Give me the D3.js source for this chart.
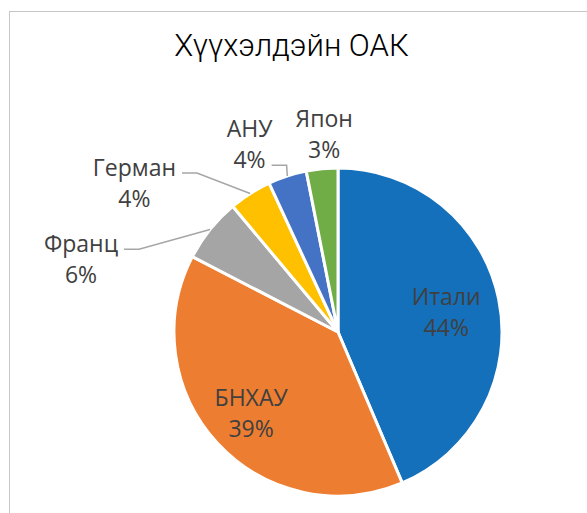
<!DOCTYPE html>
<html>
<head>
<meta charset="utf-8">
<script src="https://cdn.jsdelivr.net/npm/d3@7"></script>
<style>
  html, body { margin: 0; padding: 0; background: #fff; }
  svg { display: block; }
  .title { font-family: Roboto, "Open Sans", sans-serif; font-weight: 300; font-size: 31px; fill: #000; }
  .lbl { font-family: "Open Sans", "Noto Sans", sans-serif; font-size: 23px; fill: #404040; }
</style>
</head>
<body>
<svg id="chart" width="587" height="513"></svg>
<script>
// ── Data ──────────────────────────────────────────────────────
const countries = ['Итали', 'БНХАУ', 'Франц', 'Герман', 'АНУ', 'Япон'];
const shares    = [43.6, 39.0, 6.3, 4.2, 3.8, 3.1];
const colors    = ['#1470BA', '#ED7D31', '#A5A5A5', '#FFC000', '#4472C4', '#70AD47'];
const titleText = 'Хүүхэлдэйн ОАК';

// ── Layout ────────────────────────────────────────────────────
const W = 587, H = 513;
const cx = 338, cy = 332, R = 164;
// label placement, polar (deg clockwise from top, distance from centre)
const labelPos = {
  'Итали':  { a: 79.8,  d: 110 },
  'БНХАУ':  { a: 226.9, d: 119 },
  'Франц':  { a: 285.7, d: 267, out: true },
  'Герман': { a: 306.1, d: 252, out: true },
  'АНУ':    { a: 334.7, d: 207, out: true },
  'Япон':   { a: 356.0, d: 198, out: true }
};
const LINE = 31;

const svg = d3.select('#chart').attr('viewBox', `0 0 ${W} ${H}`);

// chart area border (clipped by the window on right and bottom)
svg.append('rect')
  .attr('x', 9.5).attr('y', 11.5).attr('width', 700).attr('height', 700)
  .attr('fill', 'none').attr('stroke', '#C6C6C6').attr('stroke-width', 1);

svg.append('text').attr('class', 'title')
  .attr('x', 291.5).attr('y', 56).attr('text-anchor', 'middle')
  .text(titleText);

const rows = countries.map((c, i) => ({ name: c, value: shares[i], color: colors[i] }));
const total = d3.sum(rows, d => d.value);
const pct = d3.format('.0%');

const pie = d3.pie().sort(null).value(d => d.value);
const arcs = pie(rows);
const arc = d3.arc().innerRadius(0).outerRadius(R);

const g = svg.append('g').attr('transform', `translate(${cx},${cy})`);

g.selectAll('path.slice')
  .data(arcs).join('path')
  .attr('class', 'slice')
  .attr('d', arc)
  .attr('fill', d => d.data.color)
  .attr('stroke', '#fff')
  .attr('stroke-width', 3)
  .attr('stroke-linejoin', 'round');

const polar = (deg, r) => {
  const t = deg * Math.PI / 180;
  return [r * Math.sin(t), -r * Math.cos(t)];
};

// ── Labels ────────────────────────────────────────────────────
const leaderG = g.append('g');
const labelG = g.append('g');

arcs.forEach(d => {
  const midDeg = (d.startAngle + d.endAngle) / 2 * 180 / Math.PI;
  const pos = labelPos[d.data.name];
  const [lx, ly] = polar(pos.a, pos.d);
  const b1 = ly - 7.5;
  const lines = [d.data.name, pct(d.data.value / total)];

  const t = labelG.append('text').attr('class', 'lbl').attr('text-anchor', 'middle');
  const spans = lines.map((s, k) =>
    t.append('tspan').attr('x', lx).attr('y', b1 + k * LINE).text(s));

  if (!pos.out) return;

  // leader line from label side to slice edge at mid angle
  const [tx, ty] = polar(midDeg, R);
  const widths = spans.map(s => s.node().getComputedTextLength());
  const right = lx + d3.max(widths) / 2;
  const boxBottom = b1 + LINE + 6;
  const near = Math.hypot(Math.max(0, tx - right), Math.max(0, ty - boxBottom));
  if (near < 12) return;

  let k = 0;
  lines.forEach((s, j) => { if (b1 + j * LINE - 3 <= ty) k = j; });
  const rowRight = lx + widths[k] / 2;
  const y0 = b1 + k * LINE - 3;
  const x0 = rowRight + 6;
  const x1 = Math.min(x0 + 15, tx);
  leaderG.append('path')
    .attr('d', d3.line()([[x0, y0], [x1, y0], [tx, ty]]))
    .attr('fill', 'none')
    .attr('stroke', '#A6A6A6')
    .attr('stroke-width', 1.5);
});
</script>
</body>
</html>
